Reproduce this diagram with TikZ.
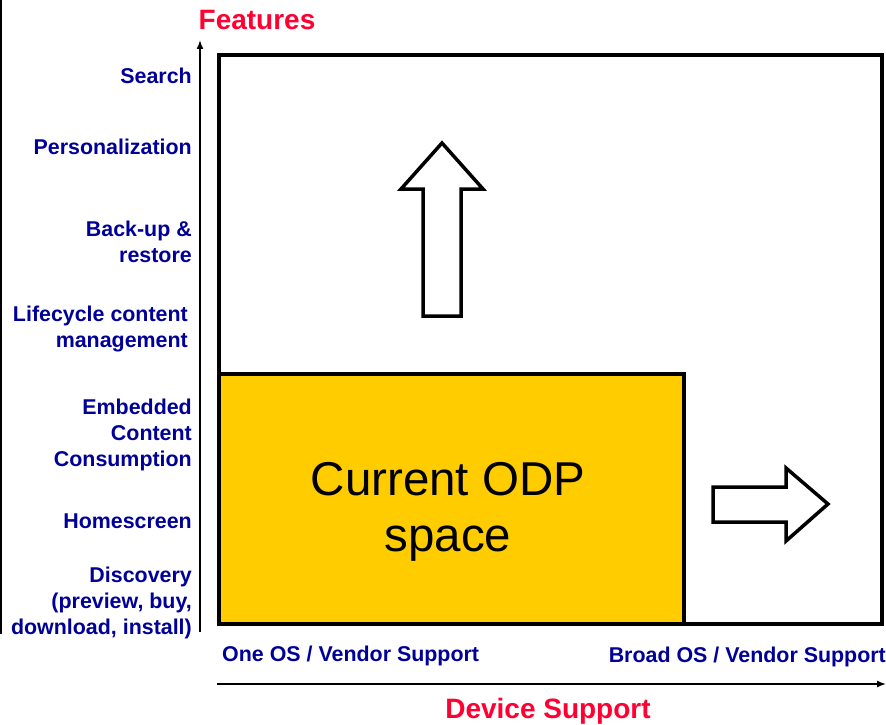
\documentclass[tikz,border=0pt]{standalone}
\usepackage{fontspec}
\setmainfont{Liberation Sans}
\usetikzlibrary{arrows.meta}

\definecolor{featnavy}{RGB}{0,0,153}
\definecolor{axisred}{RGB}{255,0,51}
\definecolor{odpyellow}{RGB}{255,204,0}

\tikzset{
  featlabel/.style={anchor=east, align=right, inner sep=0pt, text=featnavy,
    font=\fontsize{21.4}{25.6}\selectfont\bfseries},
  supportlabel/.style={inner sep=0pt, text=featnavy,
    font=\fontsize{21.4}{25.6}\selectfont\bfseries},
  axistitle/.style={inner sep=0pt, text=axisred,
    font=\fontsize{28}{34}\selectfont\bfseries},
  bigarrow/.style={draw, line width=3.5pt, fill=white, line join=miter},
  axisline/.style={line width=1.5pt, -{Latex[length=9pt,width=7pt]}}
}

\begin{document}
\begin{tikzpicture}[x=1pt,y=1pt,yscale=-1]
\useasboundingbox (0,0) rectangle (886,725);
\fill[white] (0,0) rectangle (886,725);

% frame edge at the left
\draw[line width=2pt] (1,0) -- (1,634);

% feature / device space
\draw[line width=4pt] (219,55) rectangle (882,624);
\draw[line width=4pt, fill=odpyellow] (219,374) rectangle (684,624);
\node[align=center, inner sep=0pt, font=\fontsize{47.5}{56}\selectfont] (odp) at (448,512) {Current ODP\\space};

% growth arrows
\draw[bigarrow] (442,143) -- (483,189) -- (461,189) -- (461,316) -- (423,316) -- (423,189) -- (401,189) -- cycle;
\draw[bigarrow] (828,504) -- (786,541) -- (786,522) -- (713,522) -- (713,487) -- (786,487) -- (786,468) -- cycle;

% axes
\coordinate (yfoot) at (200,632);
\coordinate (ytip) at (200,40);
\draw[axisline] (yfoot) -- (ytip);
\coordinate (xfoot) at (217,684);
\coordinate (xtip) at (886,684);
\draw[axisline] (xfoot) -- (xtip);

\node[axistitle] (features) at (257,20) {Features};
\node[axistitle] (devsupport) at (548,711) {Device Support};

% feature levels
\node[featlabel] (search) at (192,76) {Search};
\node[featlabel] (personal) at (192,147) {Personalization};
\node[featlabel] (backup) at (192,242) {Back-up \&\\restore};
\node[featlabel] (lifecycle) at (188,329) {Lifecycle content\\management};
\node[featlabel] (embedded) at (192,435) {Embedded\\Content\\Consumption};
\node[featlabel] (homescreen) at (192,521) {Homescreen};
\node[featlabel] (discovery) at (192,603) {Discovery\\(preview, buy,\\download, install)};

% device support levels
\node[supportlabel, anchor=west] (oneos) at (222,656) {One OS / Vendor Support};
\node[supportlabel, anchor=east] (broados) at (886,657) {Broad OS / Vendor Support};

\end{tikzpicture}
\end{document}
